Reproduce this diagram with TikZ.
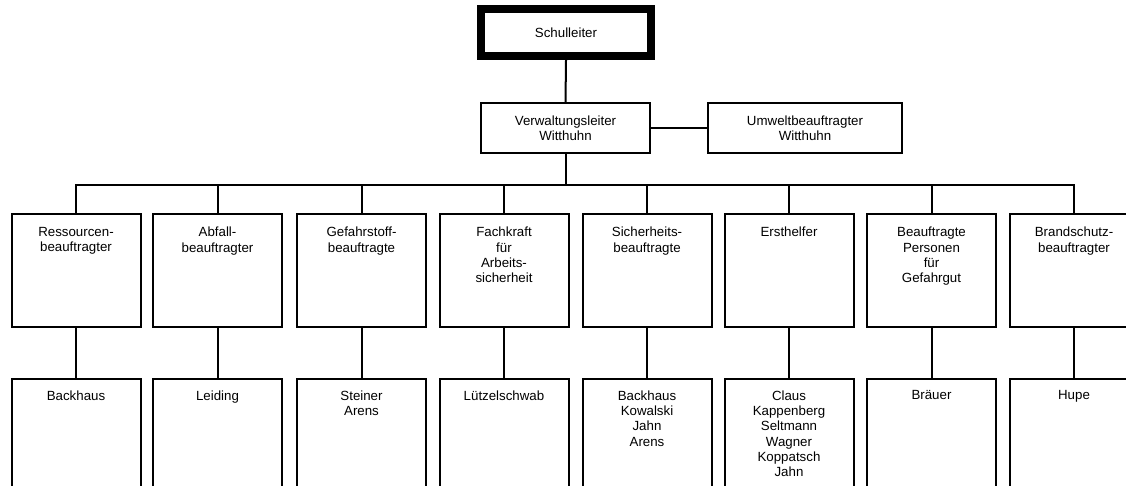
\documentclass[tikz,border=0pt]{standalone}
\usepackage{fontspec}
\setmainfont{Liberation Sans}
\begin{document}
\begin{tikzpicture}[x=1pt,y=-1pt,
  every node/.style={font=\fontsize{13.3pt}{15.3pt}\selectfont, inner sep=0pt},
  box/.style={draw, line width=2pt, fill=white, align=center},
  topbox/.style={box, minimum height=50pt},
  unitbox/.style={box, minimum width=129pt, minimum height=113pt},
  namebox/.style={box, minimum width=129pt, minimum height=130pt},
  lbl/.style={anchor=north, align=center},
  conn/.style={line width=2pt, line join=miter}]
\clip (0,0) rectangle (1126,486);
\fill[white] (0,0) rectangle (1126,486);

\node[box, line width=8pt, minimum width=170pt, minimum height=47pt] (schul) at (566,32.5) {Schulleiter};
\node[topbox, minimum width=169pt] (verw) at (565.5,128) {Verwaltungsleiter\\Witthuhn};
\node[topbox, minimum width=194pt] (umw) at (805,128) {Umweltbeauftragter\\Witthuhn};

\foreach \i/\x/\t/\n in {
  1/76/{Ressourcen-\\beauftragter}/{Backhaus},
  2/217.5/{Abfall-\\beauftragter}/{Leiding},
  3/361.5/{Gefahrstoff-\\beauftragte}/{Steiner\\Arens},
  4/504/{Fachkraft\\für\\Arbeits-\\sicherheit}/{Lützelschwab},
  5/647/{Sicherheits-\\beauftragte}/{Backhaus\\Kowalski\\Jahn\\Arens},
  6/789/{Ersthelfer}/{Claus\\Kappenberg\\Seltmann\\Wagner\\Koppatsch\\Jahn},
  7/931.5/{Beauftragte\\Personen\\für\\Gefahrgut}/{Bräuer},
  8/1074/{Brandschutz-\\beauftragter}/{Hupe}} {
  \node[unitbox] (a\i) at (\x,270.5) {};
  \node[lbl] (at\i) at ([yshift=-14pt]a\i.north) {\t};
  \node[namebox] (b\i) at (\x,444) {};
  \node[lbl] (bt\i) at ([yshift=-12.5pt]b\i.north) {\n};
  \draw[conn] (a\i.south) -- (b\i.north);
}

\coordinate (bar) at (566,185);
\draw[conn] (schul.south) -- (verw.north);
\draw[conn] (verw.east) -- (umw.west);
\draw[conn] (verw.south) -- (verw.south |- bar);
\draw[conn] (a1.north) -- (a1.north |- bar) -- (a8.north |- bar) -- (a8.north);
\foreach \i in {2,...,7} {
  \draw[conn] (a\i.north) -- (a\i.north |- bar);
}
\end{tikzpicture}
\end{document}
